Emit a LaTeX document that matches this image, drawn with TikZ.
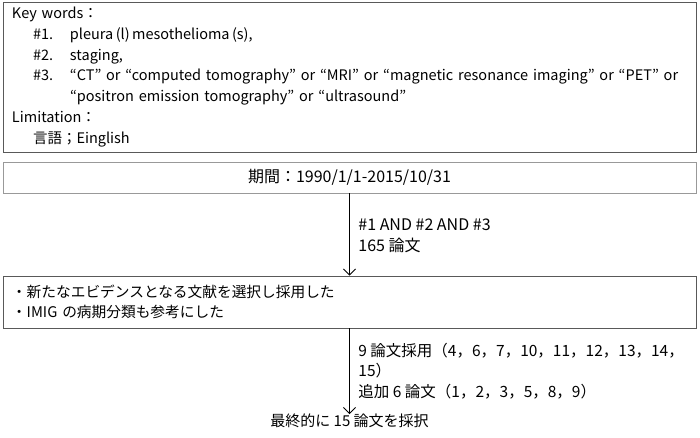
\documentclass[tikz,border=0pt]{standalone}
\usepackage{fontspec}
\setmainfont{Noto Sans CJK JP}
\usetikzlibrary{arrows.meta}
\tikzset{
  box/.style={draw=black!65, line width=0.9pt, rectangle, minimum width=693pt, inner xsep=9pt, inner ysep=0pt, font=\fontsize{14.5}{20.7}\selectfont},
  arr/.style={-{Straight Barb[length=6pt,width=12pt]}, line width=0.8pt},
  lbl/.style={align=left, anchor=west, inner sep=0pt, font=\fontsize{15.5}{20.5}\selectfont}
}
\begin{document}
\begin{tikzpicture}[x=1pt,y=-1pt]
	\useasboundingbox (0,0) rectangle (700,437);
	
	\node[box, minimum height=150pt, text width=675pt, align=left] (b1) at (349.5,77) {Key words：\\
		\hspace*{21pt}\makebox[37pt][l]{\#1.}pleura\,(l)\,mesothelioma\,(s),\\
		\hspace*{21pt}\makebox[37pt][l]{\#2.}staging,\\
		\hspace*{21pt}\makebox[37pt][l]{\#3.}\makebox[618pt][s]{“CT” or “computed tomography” or “MRI” or “magnetic resonance imaging” or “PET” or}\\
		\hspace*{58pt}“positron emission tomography” or “ultrasound”\\
		Limitation：\\
		\hspace*{21pt}言語；Einglish};
	\node[box, draw=black!40, minimum height=31pt, font=\fontsize{16}{20}\selectfont] (b2) at (349.5,177.5) {期間：1990/1/1-2015/10/31};
	\node[box, minimum height=52pt, text width=675pt, align=left, font=\fontsize{14.7}{20.7}\selectfont] (b3) at (349.5,302) {・新たなエビデンスとなる文献を選択し採用した\\
		・IMIG の病期分類も参考にした};
	\node[inner sep=0pt, anchor=north, font=\fontsize{15}{16}\selectfont] (fin) at (349.5,414) {最終的に 15 論文を採択};
	
	\draw[arr] (b2) -- (b3) node[lbl, font=\fontsize{16}{20.5}\selectfont] at (358,236) {\#1 AND \#2 AND \#3\\165 論文};
	\draw[arr] (b3) -- (fin) node[lbl] at (358,371) {9 論文採用（4，6，7，10，11，12，13，14，\\15）\\追加 6 論文（1，2，3，5，8，9）};
\end{tikzpicture}
\end{document}
